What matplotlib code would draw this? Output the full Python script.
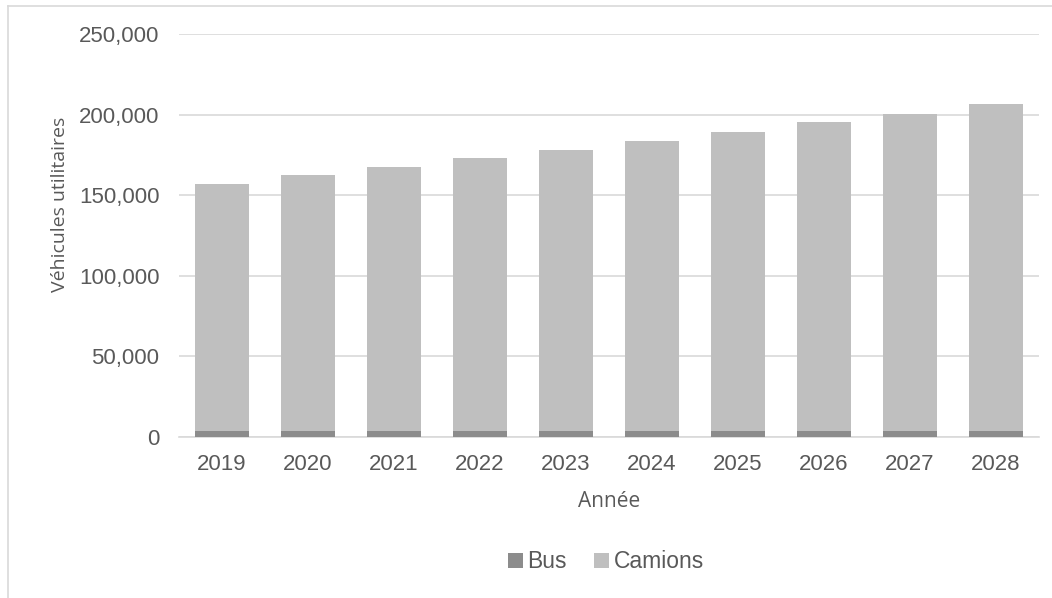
import numpy as np
import matplotlib.pyplot as plt
from matplotlib.ticker import FuncFormatter
from matplotlib.lines import Line2D

annees = ['2019', '2020', '2021', '2022', '2023', '2024', '2025', '2026', '2027', '2028']
bus = [3500, 3500, 3500, 3500, 3500, 3500, 3500, 3500, 3500, 3500]
camions = [153700, 158900, 164000, 169500, 174800, 180100, 185900, 191700, 197100, 203300]

plt.rcParams['font.family'] = ['Liberation Sans', 'DejaVu Sans']
gris_texte = '#595959'

fig = plt.figure(figsize=(10.52, 5.98), dpi=100)
ax = fig.add_axes([179 / 1052, 1 - 437 / 598, 860 / 1052, (437 - 34) / 598])

x = np.arange(len(annees))
ax.bar(x, bus, width=0.62, color='#8c8c8c', label='Bus', zorder=3)
ax.bar(x, camions, width=0.62, bottom=bus, color='#bfbfbf', label='Camions', zorder=3)

ax.set_ylim(0, 250000)
ax.set_xlim(-0.5, len(annees) - 0.5)
ax.set_yticks(np.arange(0, 250001, 50000))
ax.yaxis.set_major_formatter(FuncFormatter(lambda v, p: f'{int(v):,}'))
ax.set_xticks(x)
ax.set_xticklabels(annees)
ax.grid(axis='y', color='#d9d9d9', linewidth=1.2, zorder=0)
for s in ['top', 'right', 'left']:
    ax.spines[s].set_visible(False)
ax.spines['bottom'].set_color('#d9d9d9')
ax.spines['bottom'].set_linewidth(1.2)
ax.tick_params(axis='both', length=0, labelsize=16, colors=gris_texte)
ax.tick_params(axis='y', pad=14)
ax.tick_params(axis='x', pad=12)

ax.set_xlabel('Année', fontsize=15, color=gris_texte, labelpad=12, family=['Open Sans', 'DejaVu Sans'])
ax.set_ylabel('Véhicules utilitaires', fontsize=14, color=gris_texte,
              family=['Open Sans', 'DejaVu Sans'])
ax.yaxis.set_label_coords(-0.128, 0.576)

fig.legend(*ax.get_legend_handles_labels(), loc='center', bbox_to_anchor=(606 / 1052, 1 - 562 / 598),
           ncol=2, frameon=False, fontsize=16.5, labelcolor=gris_texte,
           handlelength=0.65, handleheight=0.65, handletextpad=0.2, columnspacing=1.2)

# cadre du graphique
fig.add_artist(Line2D([8 / 1052, 8 / 1052], [0, 1 - 6 / 598], transform=fig.transFigure,
                      color='#d9d9d9', linewidth=1.2))
fig.add_artist(Line2D([8 / 1052, 1], [1 - 6 / 598, 1 - 6 / 598], transform=fig.transFigure,
                      color='#d9d9d9', linewidth=1.2))

fig.savefig('out.png', dpi=100)
